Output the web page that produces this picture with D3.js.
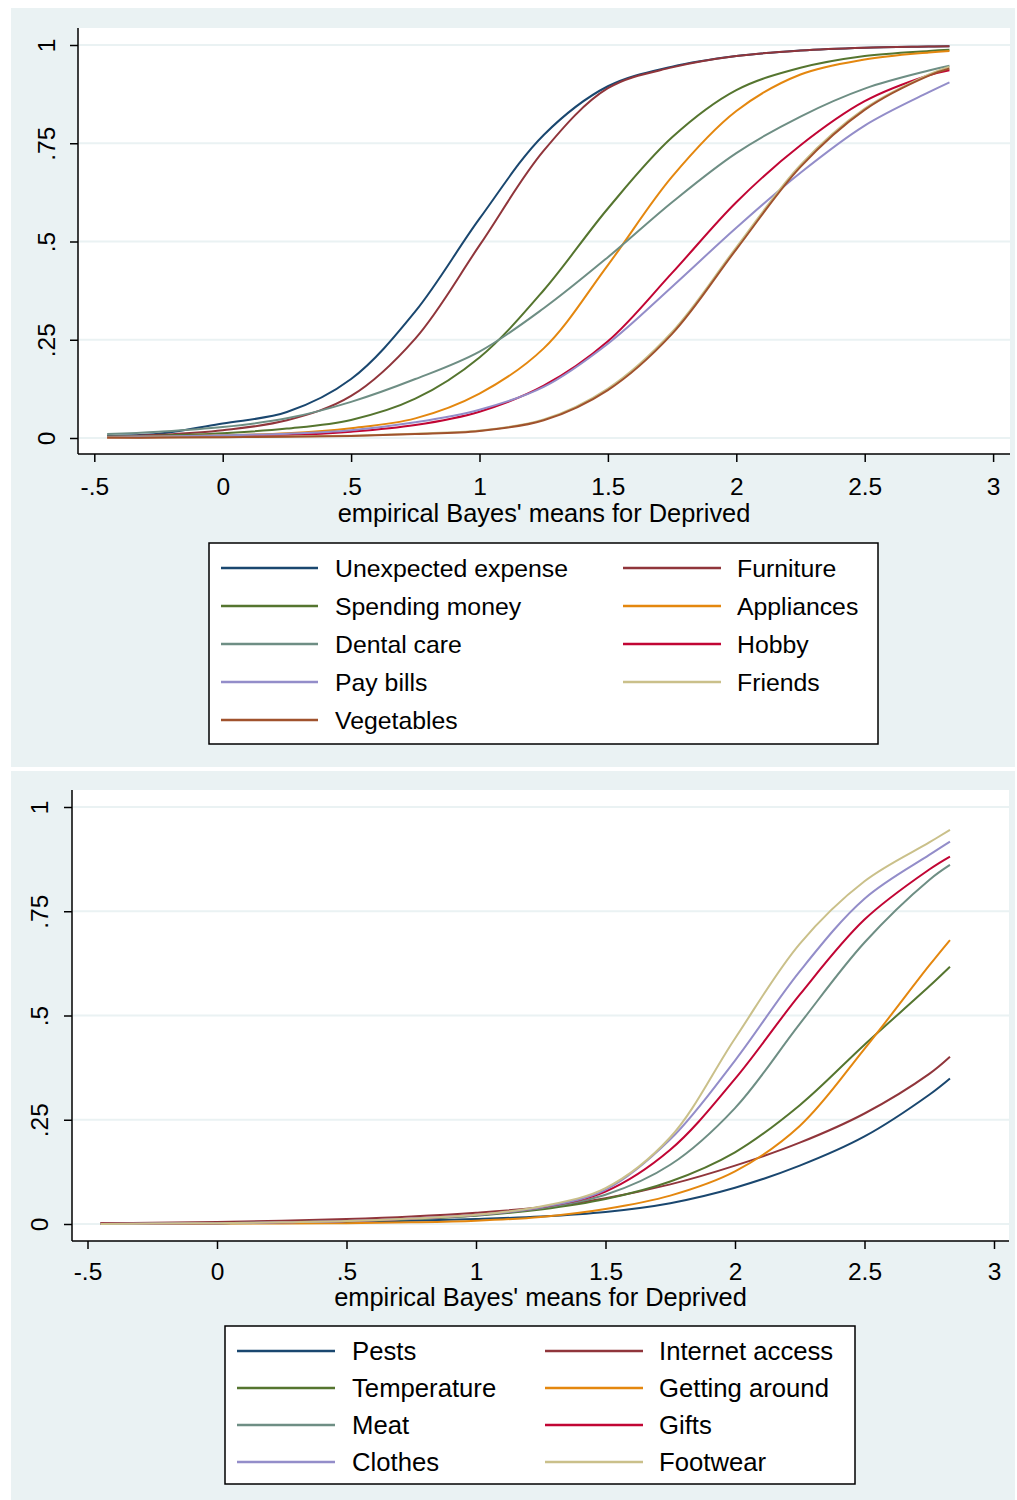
<!DOCTYPE html>
<html>
<head>
<meta charset="utf-8">
<script src="https://cdn.jsdelivr.net/npm/d3@7"></script>
<style>
  html, body { margin: 0; padding: 0; background: #ffffff; }
  svg { display: block; }
  text { font-family: "Liberation Sans", Arial, Helvetica, sans-serif; fill: #000; }
</style>
</head>
<body>
<svg id="chart" width="1017" height="1500"></svg>
<script>
// ---------- DATA ----------
const xs = [-0.45, -0.25, 0, 0.25, 0.5, 0.75, 1, 1.25, 1.5, 1.75, 2, 2.25, 2.5, 2.75, 2.83];

const xTickValues = [-0.5, 0, 0.5, 1, 1.5, 2, 2.5, 3];
const xTickLabels = ["-.5", "0", ".5", "1", "1.5", "2", "2.5", "3"];
const yTickValues = [0, 0.25, 0.5, 0.75, 1];
const yTickLabels = ["0", ".25", ".5", ".75", "1"];
const xTitle = "empirical Bayes' means for Deprived";

// Top panel series (probability at each xs value)
const topNames = ["Unexpected expense", "Furniture", "Spending money", "Appliances", "Dental care",
                  "Hobby", "Pay bills", "Friends", "Vegetables"];
const unexpectedExpense = [0.006, 0.011, 0.037, 0.066, 0.150, 0.322, 0.558, 0.771, 0.895, 0.945, 0.972, 0.986, 0.993, 0.996, 0.997];
const furniture         = [0.003, 0.008, 0.020, 0.045, 0.107, 0.253, 0.490, 0.731, 0.890, 0.943, 0.972, 0.986, 0.993, 0.996, 0.997];
const spendingMoney     = [0.004, 0.006, 0.012, 0.024, 0.046, 0.100, 0.205, 0.376, 0.584, 0.765, 0.885, 0.942, 0.972, 0.985, 0.988];
const appliances        = [0.002, 0.004, 0.007, 0.012, 0.025, 0.050, 0.113, 0.228, 0.440, 0.665, 0.832, 0.925, 0.963, 0.981, 0.985];
const dentalCare        = [0.010, 0.016, 0.028, 0.050, 0.092, 0.150, 0.220, 0.330, 0.460, 0.600, 0.725, 0.818, 0.889, 0.935, 0.947];
const hobby             = [0.001, 0.002, 0.004, 0.007, 0.016, 0.033, 0.067, 0.133, 0.246, 0.420, 0.600, 0.745, 0.857, 0.923, 0.936];
const payBills          = [0.003, 0.004, 0.007, 0.011, 0.020, 0.040, 0.072, 0.130, 0.240, 0.385, 0.535, 0.675, 0.795, 0.880, 0.905];
const friends           = [0.001, 0.001, 0.002, 0.004, 0.006, 0.011, 0.019, 0.047, 0.126, 0.270, 0.485, 0.695, 0.838, 0.925, 0.945];
const vegetables        = [0.001, 0.001, 0.002, 0.003, 0.005, 0.010, 0.018, 0.045, 0.122, 0.265, 0.480, 0.690, 0.835, 0.922, 0.940];

// Bottom panel series
const bottomNames = ["Pests", "Internet access", "Temperature", "Getting around", "Meat", "Gifts", "Clothes", "Footwear"];
const pests          = [0.000, 0.001, 0.002, 0.003, 0.005, 0.008, 0.012, 0.018, 0.029, 0.050, 0.087, 0.140, 0.210, 0.310, 0.349];
const internetAccess = [0.002, 0.003, 0.005, 0.008, 0.012, 0.018, 0.027, 0.040, 0.062, 0.095, 0.140, 0.195, 0.265, 0.360, 0.401];
const temperature    = [0.001, 0.001, 0.002, 0.004, 0.007, 0.012, 0.020, 0.035, 0.060, 0.102, 0.172, 0.285, 0.430, 0.570, 0.617];
const gettingAround  = [0.000, 0.000, 0.001, 0.001, 0.002, 0.004, 0.008, 0.017, 0.036, 0.068, 0.126, 0.235, 0.420, 0.620, 0.681];
const meat           = [0.001, 0.001, 0.002, 0.004, 0.007, 0.012, 0.021, 0.038, 0.070, 0.142, 0.278, 0.480, 0.675, 0.825, 0.861];
const gifts          = [0.001, 0.001, 0.002, 0.004, 0.007, 0.013, 0.022, 0.040, 0.078, 0.178, 0.348, 0.550, 0.730, 0.850, 0.881];
const clothes        = [0.000, 0.001, 0.002, 0.004, 0.007, 0.013, 0.022, 0.040, 0.082, 0.203, 0.392, 0.606, 0.780, 0.885, 0.917];
const footwear       = [0.000, 0.001, 0.002, 0.004, 0.007, 0.013, 0.022, 0.042, 0.086, 0.208, 0.445, 0.672, 0.822, 0.915, 0.945];

// Stata s2color palette
const palette = ["rgb(26,71,111)", "rgb(144,53,59)", "rgb(85,117,47)", "rgb(228,135,15)", "rgb(110,142,132)",
                 "rgb(193,5,52)", "rgb(147,141,201)", "rgb(202,192,138)", "rgb(160,82,45)"];

const topSeries = [unexpectedExpense, furniture, spendingMoney, appliances, dentalCare, hobby, payBills, friends, vegetables];
const bottomSeries = [pests, internetAccess, temperature, gettingAround, meat, gifts, clothes, footwear];

// ---------- DRAW ----------
const svg = d3.select("#chart");
const BG = "rgb(234,242,243)";
const FONT = '"Liberation Sans", Arial, sans-serif';

function drawPanel(cfg) {
  const g = svg.append("g");
  g.append("rect").attr("x", cfg.panel[0]).attr("y", cfg.panel[1])
    .attr("width", cfg.panel[2] - cfg.panel[0]).attr("height", cfg.panel[3] - cfg.panel[1])
    .attr("fill", BG);
  const [pl, pt, pr, pb] = cfg.plot;
  g.append("rect").attr("x", pl).attr("y", pt).attr("width", pr - pl).attr("height", pb - pt).attr("fill", "#fff");

  const x = d3.scaleLinear().domain([0, 0.5]).range([cfg.x0, cfg.x0 + cfg.xHalf]);
  const y = d3.scaleLinear().domain([0, 1]).range([cfg.y0, cfg.y1]);

  // grid
  g.append("g").selectAll("line").data(yTickValues).join("line")
    .attr("x1", pl + 1).attr("x2", pr)
    .attr("y1", d => y(d)).attr("y2", d => y(d))
    .attr("stroke", BG).attr("stroke-width", 2);

  // curves
  const line = d3.line().x((d, i) => x(xs[i])).y(d => y(d)).curve(d3.curveCatmullRom.alpha(0.5));
  cfg.series.forEach((s, i) => {
    g.append("path").attr("d", line(s)).attr("fill", "none")
      .attr("stroke", palette[cfg.colorIdx[i]]).attr("stroke-width", 2)
      .attr("stroke-linejoin", "round");
  });

  // y axis
  const yAxis = d3.axisLeft(y).tickValues(yTickValues).tickSize(8).tickSizeOuter(0)
    .tickFormat((d, i) => yTickLabels[i]);
  const ya = g.append("g").attr("transform", `translate(${pl},0)`).call(yAxis);
  ya.select(".domain").remove();
  ya.selectAll(".tick line").attr("stroke", "#000").attr("stroke-width", 1.5);
  ya.selectAll(".tick text")
    .attr("x", null).attr("dy", null)
    .attr("transform", `translate(${-cfg.yLabelOff},0) rotate(-90)`)
    .attr("text-anchor", "middle")
    .style("font-size", "24.5px").style("font-family", FONT).attr("fill", "#000");
  g.append("line").attr("x1", pl).attr("x2", pl).attr("y1", pt).attr("y2", pb)
    .attr("stroke", "#000").attr("stroke-width", 1.5);

  // x axis
  const xAxis = d3.axisBottom(x).tickValues(xTickValues).tickSize(8).tickSizeOuter(0)
    .tickFormat((d, i) => xTickLabels[i]);
  const xa = g.append("g").attr("transform", `translate(0,${pb})`).call(xAxis);
  xa.select(".domain").remove();
  xa.selectAll(".tick line").attr("stroke", "#000").attr("stroke-width", 1.5);
  xa.selectAll(".tick text").attr("y", cfg.xLabelOff).attr("dy", null)
    .style("font-size", "24.5px").style("font-family", FONT).attr("fill", "#000");
  g.append("line").attr("x1", pl).attr("x2", pr).attr("y1", pb).attr("y2", pb)
    .attr("stroke", "#000").attr("stroke-width", 1.5);

  // x title
  g.append("text").attr("x", (pl + pr) / 2).attr("y", cfg.titleY).attr("text-anchor", "middle")
    .style("font-size", "25.4px").text(xTitle);

  // legend
  const L = cfg.legend;
  g.append("rect").attr("x", L.box[0]).attr("y", L.box[1])
    .attr("width", L.box[2] - L.box[0]).attr("height", L.box[3] - L.box[1])
    .attr("fill", "#fff").attr("stroke", "#000").attr("stroke-width", 1.5);
  cfg.names.forEach((name, i) => {
    const col = i % 2, row = Math.floor(i / 2);
    const cy = L.rowY0 + row * L.rowStep;
    const lx = L.cols[col];
    g.append("line").attr("x1", lx[0]).attr("x2", lx[1]).attr("y1", cy).attr("y2", cy)
      .attr("stroke", palette[cfg.colorIdx[i]]).attr("stroke-width", 2.5);
    g.append("text").attr("x", lx[2]).attr("y", cy + 9).style("font-size", L.fontSize).text(name);
  });
}

drawPanel({
  panel: [11, 8, 1015, 767],
  plot: [78, 28, 1010, 454],
  x0: 222.7, xHalf: 128.4,
  y0: 438, y1: 45,
  yLabelOff: 23, xLabelOff: 41, titleY: 522,
  series: topSeries, names: topNames,
  colorIdx: [0, 1, 2, 3, 4, 5, 6, 7, 8],
  legend: { box: [209, 543, 878, 744], rowY0: 568, rowStep: 38, fontSize: "24.8px",
            cols: [[221, 318, 335], [623, 721, 737]] }
});

drawPanel({
  panel: [11, 771, 1015, 1500],
  plot: [72, 790, 1009, 1241],
  x0: 217, xHalf: 129.5,
  y0: 1224, y1: 807,
  yLabelOff: 24, xLabelOff: 39, titleY: 1306,
  series: bottomSeries, names: bottomNames,
  colorIdx: [0, 1, 2, 3, 4, 5, 6, 7],
  legend: { box: [225, 1326, 855, 1484], rowY0: 1351, rowStep: 37, fontSize: "25.7px",
            cols: [[237, 335, 352], [545, 643, 659]] }
});
</script>
</body>
</html>
